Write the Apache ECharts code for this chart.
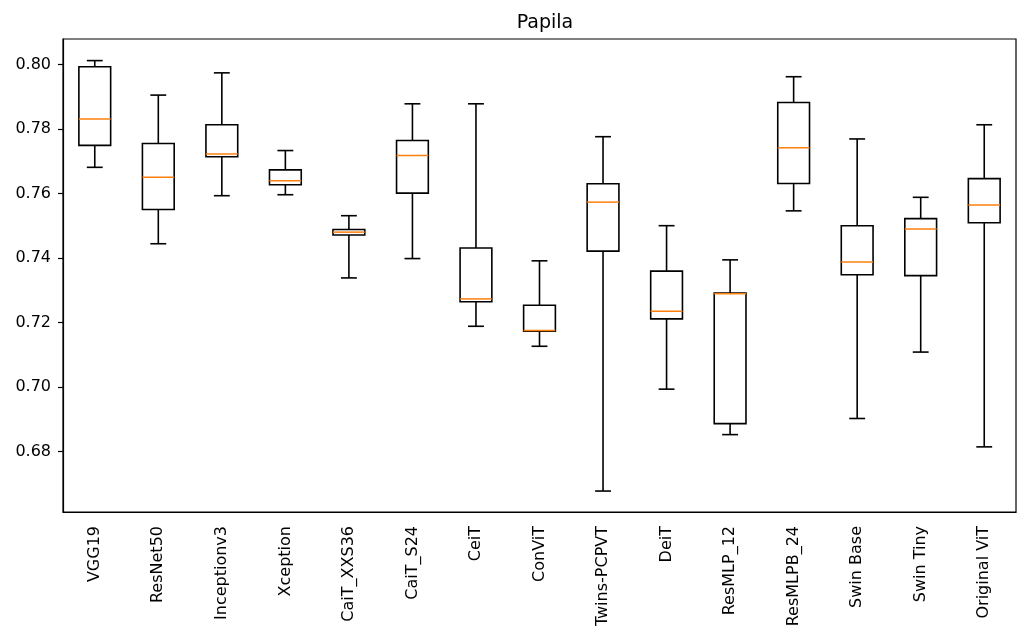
<!DOCTYPE html>
<html>
<head>
<meta charset="utf-8">
<script src="https://cdn.jsdelivr.net/npm/echarts@6/dist/echarts.min.js"></script>
<style>
  html, body { margin: 0; padding: 0; background: #fff; }
  #chart { width: 1021px; height: 635px; }
</style>
</head>
<body>
<div id="chart"></div>
<script>
// model names along the x axis
var categories = ['VGG19', 'ResNet50', 'Inceptionv3', 'Xception', 'CaiT_XXS36', 'CaiT_S24', 'CeiT', 'ConViT',
  'Twins-PCPVT', 'DeiT', 'ResMLP_12', 'ResMLPB_24', 'Swin Base', 'Swin Tiny', 'Original ViT'];

// box statistics
var lowWhisker  = [0.7681, 0.7444, 0.7593, 0.7596, 0.7338, 0.7398, 0.7188, 0.7126, 0.6677, 0.6993, 0.6852, 0.7546, 0.6902, 0.7108, 0.6814];
var q1          = [0.7749, 0.7550, 0.7714, 0.7627, 0.7471, 0.7601, 0.7264, 0.7173, 0.7421, 0.7211, 0.6886, 0.7631, 0.7348, 0.7345, 0.7509];
var median      = [0.7831, 0.7650, 0.7722, 0.7639, 0.7480, 0.7718, 0.7273, 0.7175, 0.7573, 0.7235, 0.7289, 0.7742, 0.7387, 0.7490, 0.7564];
var q3          = [0.7993, 0.7755, 0.7813, 0.7673, 0.7488, 0.7764, 0.7431, 0.7253, 0.7630, 0.7359, 0.7291, 0.7882, 0.7500, 0.7522, 0.7646];
var highWhisker = [0.8012, 0.7905, 0.7974, 0.7733, 0.7531, 0.7878, 0.7878, 0.7391, 0.7776, 0.7500, 0.7394, 0.7962, 0.7769, 0.7588, 0.7813];

// y tick labels
var yTicks = [0.68, 0.70, 0.72, 0.74, 0.76, 0.78, 0.80];

var font = 'DejaVu Sans';
var boxData = categories.map(function (c, i) {
  return [i, lowWhisker[i], q1[i], median[i], q3[i], highWhisker[i]];
});

function renderBox(params, api) {
  var i = api.value(0);
  var band = api.size([1, 0])[0];
  var hw = band * 0.25;   // half box width
  var cw = band * 0.125;  // half cap width
  var lo = api.coord([i, api.value(1)]);
  var b1 = api.coord([i, api.value(2)]);
  var md = api.coord([i, api.value(3)]);
  var b3 = api.coord([i, api.value(4)]);
  var hi = api.coord([i, api.value(5)]);
  var x = lo[0];
  var stroke = { stroke: '#000', lineWidth: 1.6, fill: null };
  return {
    type: 'group',
    children: [
      { type: 'line', shape: { x1: x, y1: lo[1], x2: x, y2: b1[1] }, style: stroke },
      { type: 'line', shape: { x1: x, y1: b3[1], x2: x, y2: hi[1] }, style: stroke },
      { type: 'line', shape: { x1: x - cw, y1: lo[1], x2: x + cw, y2: lo[1] }, style: stroke },
      { type: 'line', shape: { x1: x - cw, y1: hi[1], x2: x + cw, y2: hi[1] }, style: stroke },
      { type: 'rect', shape: { x: x - hw, y: b3[1], width: hw * 2, height: b1[1] - b3[1] }, style: stroke },
      { type: 'line', shape: { x1: x - hw, y1: md[1], x2: x + hw, y2: md[1] },
        style: { stroke: '#ff7f0e', lineWidth: 1.5 } }
    ]
  };
}

var myChart = echarts.init(document.getElementById('chart'));
myChart.setOption({
  animation: false,
  title: {
    text: 'Papila',
    left: 540,
    textAlign: 'center',
    top: 9,
    textStyle: { fontFamily: font, fontSize: 19, fontWeight: 'normal', color: '#000' }
  },
  grid: {
    left: 63,
    right: 5,
    top: 39,
    bottom: 123,
    show: true,
    borderColor: '#000',
    borderWidth: 1.2,
    backgroundColor: 'transparent'
  },
  xAxis: {
    type: 'category',
    data: categories,
    boundaryGap: true,
    axisLine: { lineStyle: { color: '#000', width: 1.2 } },
    axisTick: { alignWithLabel: true, length: 5, lineStyle: { color: '#000', width: 1.2 } },
    axisLabel: {
      rotate: 90,
      interval: 0,
      margin: 14,
      color: '#000',
      fontFamily: font,
      fontSize: 16
    },
    splitLine: { show: false }
  },
  yAxis: {
    type: 'value',
    min: 0.6612,
    max: 0.8079,
    axisLine: { show: true, lineStyle: { color: '#000', width: 1.2 } },
    axisTick: { show: true, length: 5, customValues: yTicks, lineStyle: { color: '#000', width: 1.2 } },
    axisLabel: {
      customValues: yTicks,
      margin: 12,
      color: '#000',
      fontFamily: font,
      fontSize: 16,
      formatter: function (v) { return v.toFixed(2); }
    },
    splitLine: { show: false }
  },
  series: [{
    type: 'custom',
    renderItem: renderBox,
    encode: { x: 0, y: [1, 2, 3, 4, 5] },
    data: boxData
  }]
});
</script>
</body>
</html>
